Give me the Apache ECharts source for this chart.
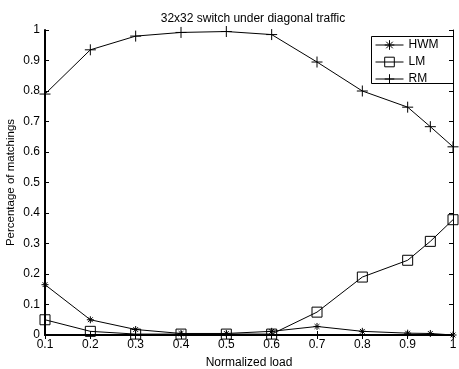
<!DOCTYPE html>
<html><head><meta charset="utf-8">
<script src="https://cdn.jsdelivr.net/npm/echarts@6/dist/echarts.min.js"></script>
<style>html,body{margin:0;padding:0;background:#fff}#c{width:459px;height:369px}</style>
</head><body><div id="c"></div>
<script>
const loads = [0.1,0.2,0.3,0.4,0.5,0.6,0.7,0.8,0.9,0.95,1.0];
const hwm = [0.165,0.05,0.018,0.005,0.005,0.012,0.028,0.012,0.006,0.005,0.0];
const lm  = [0.05,0.012,0.003,0.003,0.003,0.003,0.075,0.19,0.245,0.307,0.378];
const rm  = [0.79,0.935,0.98,0.992,0.995,0.985,0.895,0.8,0.747,0.683,0.617];
const seriesNames = ['HWM','LM','RM'];
const titleText = '32x32 switch under diagonal traffic';
const xName = 'Normalized load';
const yName = 'Percentage of matchings';

const FONT = 'Liberation Sans';
const pair = (ys) => loads.map((x,i)=>[x, ys[i]]);
const star = 'path://M5,0L5,10M0,5L10,5M1.6,1.6L8.4,8.4M8.4,1.6L1.6,8.4';
const plus = 'path://M5,0L5,10M0,5L10,5';
const mk = (name, data, symbol, size) => ({
  name, type:'line', data: pair(data), symbol, symbolSize: size,
  showAllSymbol: true, animation:false,
  lineStyle:{color:'#000', width:1},
  itemStyle:{color:'rgba(0,0,0,0)', borderColor:'#000', borderWidth:1},
  emphasis:{disabled:true}
});
const chart = echarts.init(document.getElementById('c'));
const tickLbl = v => (Math.abs(v-1)<1e-9?'1':(Math.abs(v)<1e-9?'0':v.toFixed(1)));
chart.setOption({
  animation:false,
  title:{text:titleText, left:248, top:8, textAlign:'center',
    textStyle:{fontFamily:FONT, fontSize:12, fontWeight:'normal', color:'#000'}},
  grid:{left:45, right:6, top:30, bottom:34, outerBoundsMode:'none', containLabel:false},
  graphic:[{type:'rect', left:371, top:36, z:100,
    shape:{width:82, height:47},
    style:{fill:'rgba(0,0,0,0)', stroke:'#000', lineWidth:1}}],
  legend:{orient:'vertical', left:371, top:36,
    backgroundColor:'#fff', borderWidth:0,
    padding:[3,4,1,4], itemGap:5, itemWidth:28, itemHeight:12,
    textStyle:{fontFamily:FONT, fontSize:12, color:'#000'},
    lineStyle:{width:1, color:'#000'},
    itemStyle:{borderWidth:1, borderColor:'#000'},
    data: seriesNames},
  xAxis:[{type:'value', min:0.1, max:1, interval:0.1, position:'bottom',
    name:xName, nameLocation:'middle', nameGap:22, nameMoveOverlap:false,
    nameTextStyle:{fontFamily:FONT, fontSize:12, color:'#000'},
    axisLine:{lineStyle:{color:'#000', width:2}},
    axisTick:{inside:true, length:4, lineStyle:{color:'#000'}},
    axisLabel:{fontFamily:FONT, fontSize:12, color:'#000', margin:4, formatter:tickLbl},
    splitLine:{show:false}},
   {type:'value', min:0.1, max:1, interval:0.1, position:'top',
    axisLine:{lineStyle:{color:'#000', width:1}},
    axisTick:{inside:true, length:4, lineStyle:{color:'#000'}},
    axisLabel:{show:false}, splitLine:{show:false}}],
  yAxis:[{type:'value', min:0, max:1, interval:0.1, position:'left',
    name:yName, nameLocation:'middle', nameGap:28, nameMoveOverlap:false,
    nameTextStyle:{fontFamily:FONT, fontSize:11.5, color:'#000'},
    axisLine:{show:true, lineStyle:{color:'#000', width:2}},
    axisTick:{show:true, inside:true, length:4, lineStyle:{color:'#000'}},
    axisLabel:{fontFamily:FONT, fontSize:12, color:'#000', margin:5, formatter:tickLbl},
    splitLine:{show:false}},
   {type:'value', min:0, max:1, interval:0.1, position:'right',
    axisLine:{show:true, lineStyle:{color:'#000', width:1}},
    axisTick:{show:true, inside:true, length:4, lineStyle:{color:'#000'}},
    axisLabel:{show:false}, splitLine:{show:false}}],
  series:[mk('HWM', hwm, star, 7), mk('LM', lm, 'rect', 10), mk('RM', rm, plus, 11)]
});
</script></body></html>
